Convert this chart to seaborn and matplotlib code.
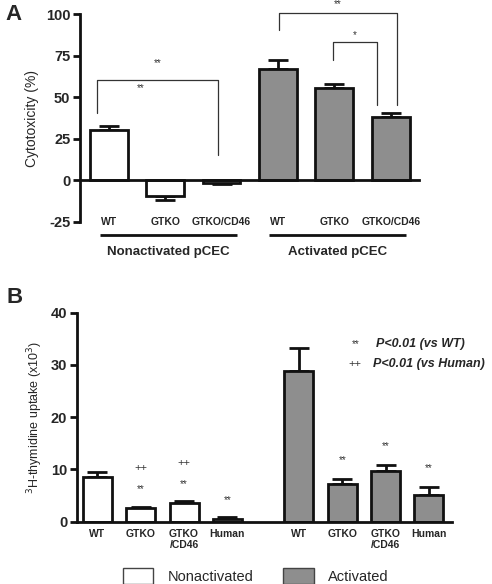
import numpy as np
import pandas as pd
import matplotlib
matplotlib.use("Agg")
import matplotlib.pyplot as plt
from matplotlib.patches import Patch
import seaborn as sns

sns.set_style("white")
plt.rcParams['font.family'] = ['Liberation Sans', 'DejaVu Sans']
plt.rcParams['axes.unicode_minus'] = False

# ---- data: panel A (cytotoxicity %)
labels_a = ['WT', 'GTKO', 'GTKO/CD46']
nonact_a = [30.5, -9.4, -1.5]
nonact_a_err = [2.0, 2.4, 0.5]
act_a = [67.0, 55.8, 38.4]
act_a_err = [5.4, 1.9, 2.4]
groups_a = ['Nonactivated pCEC', 'Activated pCEC']

# ---- data: panel B (3H-thymidine uptake x10^3)
labels_b = ['WT', 'GTKO', 'GTKO\n/CD46', 'Human']
nonact_b = [8.5, 2.55, 3.5, 0.6]
nonact_b_err = [1.0, 0.35, 0.45, 0.25]
act_b = [28.9, 7.2, 9.7, 5.1]
act_b_err = [4.4, 1.0, 1.1, 1.5]
star_nonact_b = ['', '**', '**', '**']
plus_nonact_b = ['', '++', '++', '']
star_act_b = ['', '**', '**', '**']

conds = ['Nonactivated', 'Activated']
colors = {'Nonactivated': 'white', 'Activated': '#8e8e8e'}
edge = '#111111'

def make_df(labels, nonact, nonact_err, act, act_err, gap):
    n = len(labels)
    pos = list(np.arange(n)) + list(np.arange(n) + n - 1 + gap)
    return pd.DataFrame({
        'pos': pos,
        'label': labels + labels,
        'val': nonact + act,
        'err': nonact_err + act_err,
        'cond': [conds[0]] * n + [conds[1]] * n,
    })

df_a = make_df(labels_a, nonact_a, nonact_a_err, act_a, act_a_err, 1.0)
df_b = make_df(labels_b, nonact_b, nonact_b_err, act_b, act_b_err, 1.65)

fig = plt.figure(figsize=(4.92, 5.84), dpi=100)
ax_a = fig.add_axes([0.1626, 0.6199, 0.689, 0.356])
ax_b = fig.add_axes([0.1565, 0.1067, 0.762, 0.358])


def draw_bars(ax, df):
    sns.barplot(data=df, x='pos', y='val', hue='cond', native_scale=True,
                palette=colors, hue_order=conds, width=0.67, errorbar=None,
                edgecolor=edge, linewidth=2, legend=False, ax=ax, zorder=2)
    lower = np.where(df['val'] < 0, df['err'], 0)
    upper = np.where(df['val'] >= 0, df['err'], 0)
    ax.errorbar(df['pos'], df['val'], yerr=[lower, upper], fmt='none',
                ecolor=edge, elinewidth=2, capsize=7, capthick=2, zorder=1)
    for s in ['top', 'right']:
        ax.spines[s].set_visible(False)
    for s in ['left', 'bottom']:
        ax.spines[s].set_linewidth(2)
        ax.spines[s].set_color(edge)
    ax.set_xticks([])
    ax.set_xlabel('')
    ax.tick_params(axis='y', direction='out', length=5, width=2, color=edge,
                   labelsize=10.5, left=True, pad=2)


# ---------------- panel A
draw_bars(ax_a, df_a)
ax_a.set_ylim(-25, 100)
ax_a.set_xlim(-0.51, 5.5)
ax_a.set_yticks([-25, 0, 25, 50, 75, 100])
ax_a.spines['bottom'].set_position(('data', 0))
for t in ax_a.get_yticklabels():
    t.set_fontweight('bold')
ax_a.set_ylabel('Cytotoxicity (%)', fontsize=10, labelpad=5)

for p, lab in zip(df_a['pos'], df_a['label']):
    ax_a.text(p, -25, lab, ha='center', va='center', fontsize=7.5,
              fontweight='bold', clip_on=False)
for g, name in enumerate(groups_a):
    first = g * 3
    ax_a.plot([first - 0.16, first + 2.27], [-33, -33], color=edge, lw=2,
              clip_on=False, solid_capstyle='butt')
    ax_a.text(first + 1.05, -43, name, ha='center', va='center', fontsize=9.5,
              fontweight='bold', clip_on=False)


def bracket(ax, x1, y1, x2, y2, top, label, ty):
    ax.plot([x1, x1, x2, x2], [y1, top, top, y2], color='#333333', lw=0.9,
            clip_on=False)
    ax.text((x1 + x2) / 2, ty, label, ha='center', va='center', fontsize=7,
            color='#333333', clip_on=False)


bracket(ax_a, -0.21, 40.5, 1.94, 15.5, 60.3, '**', 70.5)
ax_a.text(0.57, 55.5, '**', ha='center', va='center', fontsize=7, color='#333333')
bracket(ax_a, 3.02, 90.5, 5.11, 45.5, 100.5, '**', 106)
bracket(ax_a, 3.97, 72.5, 4.75, 45.5, 83.5, '*', 87.5)

# ---------------- panel B
draw_bars(ax_b, df_b)
ax_b.set_ylim(0, 40)
ax_b.set_xlim(-0.47, 8.18)
ax_b.set_yticks([0, 10, 20, 30, 40])
for t in ax_b.get_yticklabels():
    t.set_fontweight('bold')
ax_b.set_ylabel('$^{3}$H-thymidine uptake (x10$^{3}$)', fontsize=9, labelpad=4)

for p, lab in zip(df_b['pos'], df_b['label']):
    ax_b.text(p, -1.4, lab, ha='center', va='top', fontsize=7.5,
              fontweight='bold', linespacing=1.1, clip_on=False)

n = len(labels_b)
tops = (df_b['val'] + df_b['err']).to_numpy()
for i in range(n):
    p = df_b['pos'][i]
    if star_nonact_b[i]:
        ax_b.text(p, tops[i] + 3.3, star_nonact_b[i], ha='center', va='center',
                  fontsize=7, color='#333333')
    if plus_nonact_b[i]:
        ax_b.text(p, tops[i] + 7.3, plus_nonact_b[i], ha='center', va='center',
                  fontsize=8, color='#333333')
    p2 = df_b['pos'][i + n]
    if star_act_b[i]:
        ax_b.text(p2, tops[i + n] + 3.6, star_act_b[i], ha='center', va='center',
                  fontsize=7, color='#333333')

ax_b.text(5.95, 34.0, '**', ha='center', va='center', fontsize=7, color='#333333')
ax_b.text(6.43, 34.0, 'P<0.01 (vs WT)', ha='left', va='center', fontsize=9,
          fontweight='bold', style='italic', clip_on=False)
ax_b.text(5.95, 30.1, '++', ha='center', va='center', fontsize=8, color='#333333')
ax_b.text(6.36, 30.1, 'P<0.01 (vs Human)', ha='left', va='center', fontsize=9,
          fontweight='bold', style='italic', clip_on=False)

# panel letters
fig.text(0.012, 0.976, 'A', fontsize=16, fontweight='bold', va='center')
fig.text(0.014, 0.491, 'B', fontsize=16, fontweight='bold', va='center')

handles = [Patch(facecolor=colors[c], edgecolor='#444444', lw=1) for c in conds]
fig.legend(handles, conds, loc='center', bbox_to_anchor=(0.52, 0.014), ncol=2,
           frameon=False, fontsize=10.5, handlelength=2.1, handleheight=1.3,
           handletextpad=1.0, columnspacing=2.0)

fig.savefig('out.png', dpi=100)
